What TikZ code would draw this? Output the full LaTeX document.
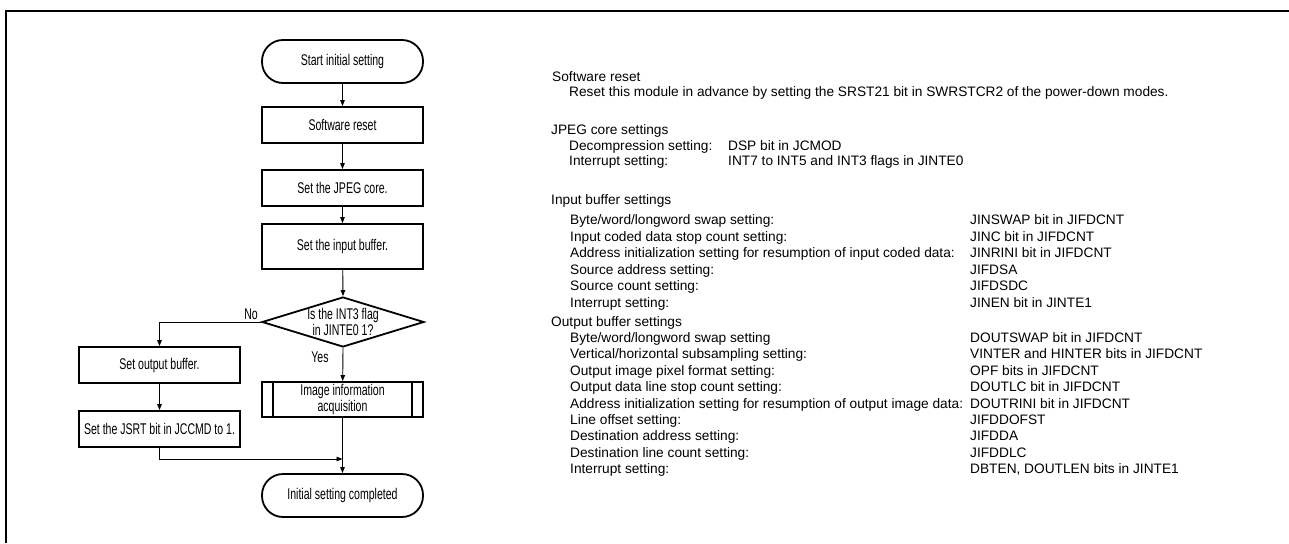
\documentclass[tikz,border=0pt]{standalone}
\usepackage{fontspec}
\setmainfont{Liberation Sans}
\newfontfamily\narrowfont[FakeStretch=0.68]{Liberation Sans}
\usetikzlibrary{shapes.geometric,arrows.meta,calc}
\tikzset{
  fc/.style={font=\narrowfont\fontsize{15.5}{15.8}\selectfont, align=center},
  procbox/.style={fc, draw, line width=1.8pt, minimum width=161pt, minimum height=36pt, inner sep=0pt},
  termbox/.style={fc, draw, line width=1.8pt, minimum width=161pt, minimum height=43pt, inner sep=0pt, rounded corners=21pt},
  conn/.style={line width=0.9pt, -{Triangle[length=6pt,width=4.5pt]}},
  rt/.style={anchor=west, inner sep=0pt, font=\fontsize{13.7}{16}\selectfont, text height=10pt, text depth=2.9pt},
  lbl/.style={fc, inner sep=0pt}
}
\begin{document}
\begin{tikzpicture}[x=1pt,y=-1pt]
\useasboundingbox (0,0) rectangle (1289,543);
% frame
\draw[line width=2pt] (6,543) -- (6,11) -- (1289,11);
% flowchart
\node[termbox] (start) at (342.5,61.5) {Start initial setting};
\node[procbox] (reset) at (342.5,125) {Software reset};
\node[procbox] (core) at (342.5,188) {Set the JPEG core.};
\node[procbox, minimum height=45pt] (inbuf) at (342.5,246.5) {Set the input buffer.};
\node[draw, shape=diamond, line width=1.8pt, minimum width=162pt, minimum height=50pt, inner sep=0pt] (dec) at (343,322) {};
\node[lbl] (dectxt) at (343,322) {Is the INT3 flag\\in JINTE0 1?};
\node[procbox] (outbuf) at (159.5,365) {Set output buffer.};
\node[procbox] (jsrt) at (159.5,429) {Set the JSRT bit in JCCMD to 1.};
\node[procbox, minimum height=35pt] (info) at (342.5,399.5) {Image information\\acquisition};
\draw[line width=1.8pt] ($(info.north west)+(12,0)$) -- ($(info.south west)+(12,0)$);
\draw[line width=1.8pt] ($(info.north east)+(-12,0)$) -- ($(info.south east)+(-12,0)$);
\node[termbox] (done) at (342.5,495.5) {Initial setting completed};
\node[lbl] (no) at (251,314) {No};
\node[lbl] (yes) at (320,357) {Yes};
\coordinate (merge) at (342.5,459);
% connectors
\draw[conn] (start) -- (reset);
\draw[conn] (reset) -- (core);
\draw[conn] (core) -- (inbuf);
\draw[conn] (inbuf) -- (dec.north);
\draw[conn] (dec.south) -- (info);
\draw[conn] (dec.west) -| (outbuf.north);
\draw[conn] (outbuf) -- (jsrt);
\draw[conn] (jsrt.south) |- (merge);
\draw[conn] (info) -- (done);
% right column
\node[rt] (h1) at (552,78) {Software reset};
\node[rt] (h1a) at (569,93) {Reset this module in advance by setting the SRST21 bit in SWRSTCR2 of the power-down modes.};
\node[rt] (h2) at (551,131) {JPEG core settings};
\node[rt] (h2a) at (569,147) {Decompression setting:};
\node[rt] (h2av) at (728,147) {DSP bit in JCMOD};
\node[rt] (h2b) at (569,162) {Interrupt setting:};
\node[rt] (h2bv) at (728,162) {INT7 to INT5 and INT3 flags in JINTE0};
\node[rt] (h3) at (551,201) {Input buffer settings};
\node[rt] (i1) at (570,221) {Byte/word/longword swap setting:};
\node[rt] (i2) at (570,237.6) {Input coded data stop count setting:};
\node[rt] (i3) at (570,254.2) {Address initialization setting for resumption of input coded data:};
\node[rt] (i4) at (570,270.8) {Source address setting:};
\node[rt] (i5) at (570,287.4) {Source count setting:};
\node[rt] (i6) at (570,304) {Interrupt setting:};
\node[rt] (i1v) at (970,221) {JINSWAP bit in JIFDCNT};
\node[rt] (i2v) at (970,237.6) {JINC bit in JIFDCNT};
\node[rt] (i3v) at (970,254.2) {JINRINI bit in JIFDCNT};
\node[rt] (i4v) at (970,270.8) {JIFDSA};
\node[rt] (i5v) at (970,287.4) {JIFDSDC};
\node[rt] (i6v) at (970,304) {JINEN bit in JINTE1};
\node[rt] (h4) at (551,323) {Output buffer settings};
\node[rt] (o1) at (570,339) {Byte/word/longword swap setting};
\node[rt] (o2) at (570,355.4) {Vertical/horizontal subsampling setting:};
\node[rt] (o3) at (570,371.8) {Output image pixel format setting:};
\node[rt] (o4) at (570,388.2) {Output data line stop count setting:};
\node[rt] (o5) at (570,404.6) {Address initialization setting for resumption of output image data:};
\node[rt] (o6) at (570,421) {Line offset setting:};
\node[rt] (o7) at (570,437.4) {Destination address setting:};
\node[rt] (o8) at (570,453.8) {Destination line count setting:};
\node[rt] (o9) at (570,470.2) {Interrupt setting:};
\node[rt] (o1v) at (970,339) {DOUTSWAP bit in JIFDCNT};
\node[rt] (o2v) at (970,355.4) {VINTER and HINTER bits in JIFDCNT};
\node[rt] (o3v) at (970,371.8) {OPF bits in JIFDCNT};
\node[rt] (o4v) at (970,388.2) {DOUTLC bit in JIFDCNT};
\node[rt] (o5v) at (970,404.6) {DOUTRINI bit in JIFDCNT};
\node[rt] (o6v) at (970,421) {JIFDDOFST};
\node[rt] (o7v) at (970,437.4) {JIFDDA};
\node[rt] (o8v) at (970,453.8) {JIFDDLC};
\node[rt] (o9v) at (970,470.2) {DBTEN, DOUTLEN bits in JINTE1};
\end{tikzpicture}
\end{document}
